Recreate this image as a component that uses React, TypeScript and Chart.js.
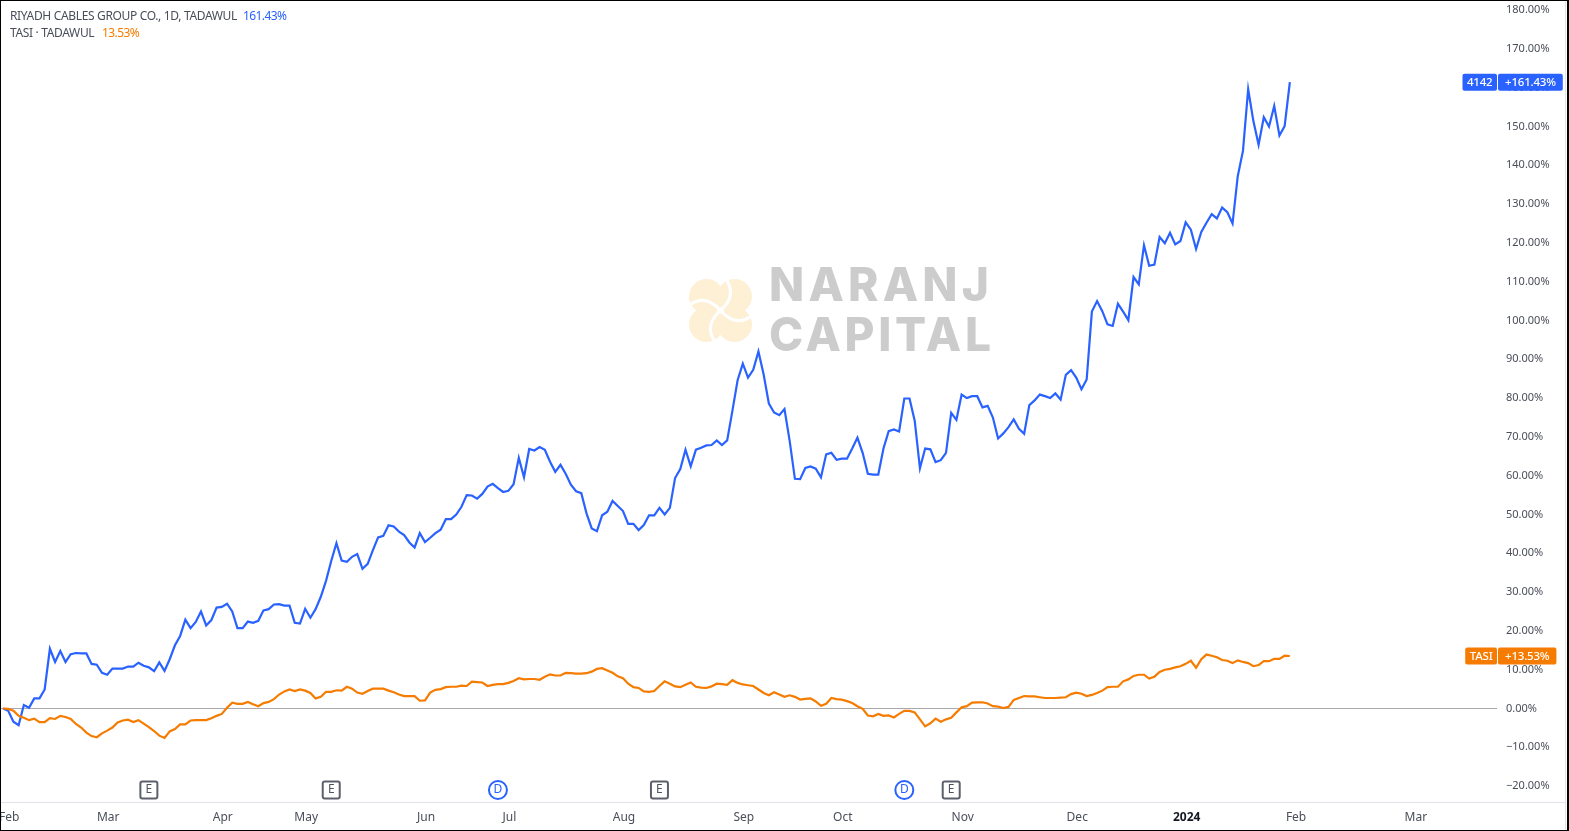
import { useEffect, useRef } from "react"
import { Chart, registerables } from "chart.js"

Chart.register(...registerables)

// percent change since the first session, one value per trading day
const riyadhCables = [
  0.0, -0.6, -3.4, -4.3, 0.9, 0.2, 2.6, 2.6, 4.9, 15.4, 12.0, 14.8, 12.0, 14.0, 14.3, 14.2, 14.2, 11.5, 11.3, 9.2,
  8.7, 10.3, 10.3, 10.3, 10.8, 10.8, 11.8, 11.0, 10.6, 9.6, 11.9, 9.7, 12.7, 16.3, 18.7, 22.9, 20.7, 22.3, 25.0, 21.4,
  22.8, 26.0, 26.2, 27.0, 25.0, 20.7, 20.7, 22.4, 22.1, 22.6, 25.3, 25.6, 26.8, 26.9, 26.5, 26.5, 22.1, 21.9, 25.7, 23.4,
  25.6, 28.8, 32.9, 38.0, 42.6, 38.1, 37.8, 39.1, 39.8, 36.0, 37.3, 40.8, 44.1, 44.5, 47.2, 46.9, 45.6, 44.7, 42.8, 41.5,
  45.2, 42.9, 44.0, 45.2, 46.1, 48.8, 48.8, 50.0, 52.0, 55.0, 54.9, 54.1, 55.3, 57.2, 57.9, 56.8, 55.8, 56.1, 57.8, 64.6,
  59.6, 66.9, 66.5, 67.4, 66.7, 63.6, 61.0, 62.8, 60.5, 57.7, 56.0, 55.5, 50.3, 46.4, 45.7, 49.8, 50.7, 53.5, 52.2, 50.9,
  47.6, 47.6, 46.0, 47.3, 49.8, 49.8, 51.7, 50.0, 51.7, 59.4, 61.7, 66.7, 62.4, 66.7, 67.2, 67.8, 67.9, 69.1, 67.9, 69.1,
  76.7, 84.6, 88.9, 85.3, 87.3, 92.0, 86.1, 78.6, 76.3, 75.6, 77.2, 68.9, 59.2, 59.1, 62.0, 62.4, 61.8, 59.6, 65.5, 65.9,
  64.1, 64.4, 64.4, 67.0, 69.8, 65.9, 60.5, 60.3, 60.3, 67.0, 71.5, 71.9, 71.4, 79.9, 79.9, 74.1, 61.9, 67.0, 66.8, 63.5,
  64.0, 65.9, 76.2, 74.4, 80.9, 80.0, 80.5, 80.5, 77.6, 78.0, 75.0, 69.6, 70.9, 72.5, 74.5, 72.1, 70.8, 78.2, 79.4, 80.9,
  80.5, 80.0, 81.2, 79.6, 86.0, 87.2, 85.3, 82.3, 84.8, 102.3, 105.0, 102.4, 99.0, 98.6, 104.3, 102.3, 100.1, 111.2, 109.3, 119.4,
  114.1, 114.4, 121.5, 119.9, 122.6, 119.6, 120.5, 125.3, 123.4, 118.4, 122.8, 125.2, 127.4, 126.3, 129.1, 127.9, 125.0, 137.2, 143.7, 159.6,
  151.4, 145.3, 152.4, 150.0, 155.3, 147.7, 150.1, 161.43,
]

const tasi = [
  0.0, -0.1, -0.6, -1.9, -2.4, -3.0, -2.6, -3.5, -3.5, -2.5, -2.7, -1.9, -2.2, -2.7, -4.0, -4.9, -6.2, -7.1, -7.4, -6.4,
  -5.7, -4.9, -3.6, -3.1, -2.9, -3.5, -3.0, -3.9, -4.8, -5.8, -7.0, -7.6, -5.9, -5.3, -4.1, -4.1, -3.1, -3.0, -3.0, -3.0,
  -2.5, -1.9, -1.4, 0.2, 1.5, 1.2, 1.2, 1.7, 1.1, 0.6, 1.4, 1.7, 2.4, 3.6, 4.4, 4.9, 4.5, 4.9, 4.6, 4.0,
  2.6, 3.0, 4.3, 4.3, 4.7, 4.6, 5.6, 5.1, 4.1, 3.8, 4.5, 5.1, 5.1, 5.1, 4.6, 4.2, 3.6, 3.2, 3.2, 3.2,
  2.0, 2.1, 4.1, 4.8, 5.0, 5.5, 5.6, 5.6, 5.9, 5.8, 6.9, 6.8, 6.7, 5.8, 6.1, 6.3, 6.3, 6.6, 7.1, 7.8,
  7.5, 7.6, 7.6, 7.4, 8.2, 8.8, 8.5, 8.5, 9.2, 9.1, 9.0, 9.0, 9.1, 9.5, 10.2, 10.4, 9.8, 9.2, 8.3, 7.8,
  6.4, 5.5, 5.3, 4.4, 4.3, 4.5, 5.8, 7.0, 6.4, 5.7, 5.5, 6.1, 6.7, 5.6, 5.4, 5.3, 5.7, 6.4, 6.3, 6.1,
  7.3, 6.6, 6.2, 6.0, 5.8, 4.9, 4.0, 3.4, 4.2, 3.6, 3.0, 3.4, 3.0, 2.3, 2.5, 2.6, 1.8, 0.7, 1.2, 2.7,
  2.4, 2.3, 1.9, 1.4, 0.6, -0.1, -1.8, -2.0, -1.4, -1.9, -1.8, -2.3, -1.4, -0.6, -0.6, -1.0, -2.8, -4.6, -3.8, -2.6,
  -3.4, -2.8, -2.4, -1.0, 0.3, 0.6, 1.5, 1.6, 1.6, 1.3, 0.6, 0.5, 0.1, 0.4, 2.2, 2.7, 3.2, 3.1, 3.1, 2.9,
  2.7, 2.7, 2.7, 2.8, 2.9, 3.7, 4.1, 3.8, 3.2, 3.5, 4.0, 4.6, 5.5, 5.6, 5.6, 7.0, 7.5, 8.4, 8.7, 8.7,
  7.7, 8.2, 9.4, 10.0, 10.2, 10.6, 10.9, 11.5, 12.3, 10.5, 12.7, 13.9, 13.6, 13.2, 12.5, 12.3, 11.7, 12.4, 12.0, 11.7,
  10.9, 11.2, 12.2, 12.2, 12.8, 12.8, 13.6, 13.53,
]

const monthLabels = ["Feb", "Mar", "Apr", "May", "Jun", "Jul", "Aug", "Sep", "Oct", "Nov", "Dec", "2024", "Feb", "Mar"]
const monthSessions = [1, 20, 42, 58, 81, 97, 119, 142, 161, 184, 206, 227, 248, 271]
const percentTicks = [-20, -10, 0, 10, 20, 30, 40, 50, 60, 70, 80, 90, 100, 110, 120, 130, 140, 150, 160, 170, 180]

const earningsSessions = [28, 63, 126, 182]
const dividendSessions = [95, 173]
const eventLevel = -21

const BLUE = "#2962ff"
const ORANGE = "#f57c00"
const TEXT = "#4a4e59"
const AXIS_LINE = "#e0e3eb"
const FONT = '"Noto Sans", sans-serif'

function formatPercent(value: number) {
  const text = Math.abs(value).toFixed(2) + "%"
  return value < 0 ? "\u2212" + text : text
}

function roundedRect(ctx: CanvasRenderingContext2D, x: number, y: number, w: number, h: number, r: number) {
  ctx.beginPath()
  ctx.roundRect(x, y, w, h, r)
}

// pinwheel logo + name behind the lines
function drawWatermark(ctx: CanvasRenderingContext2D) {
  ctx.save()
  ctx.translate(720.5, 310.5)
  ctx.fillStyle = "#fdf0d5"
  for (const [dx, dy] of [[-14, -14], [14, -14], [14, 14], [-14, 14]]) {
    ctx.beginPath()
    ctx.arc(dx, dy, 17.5, 0, Math.PI * 2)
    ctx.fill()
  }
  ctx.strokeStyle = "#ffffff"
  ctx.lineWidth = 3
  for (let i = 0; i < 4; i++) {
    ctx.beginPath()
    ctx.moveTo(0, 0)
    ctx.quadraticCurveTo(18, -16, 4, -33)
    ctx.stroke()
    ctx.rotate(Math.PI / 2)
  }
  ctx.restore()

  ctx.save()
  ctx.fillStyle = "#cccccc"
  ctx.textBaseline = "alphabetic"
  ctx.textAlign = "left"
  ctx.font = '800 46px "Inter", sans-serif'
  ctx.letterSpacing = "4.2px"
  ctx.fillText("NARANJ", 769, 301)
  ctx.letterSpacing = "3.7px"
  ctx.fillText("CAPITAL", 769, 351)
  ctx.restore()
}

function drawLegend(ctx: CanvasRenderingContext2D) {
  ctx.save()
  ctx.textBaseline = "middle"
  ctx.textAlign = "left"
  ctx.font = `12px ${FONT}`
  ctx.letterSpacing = "-0.34px"
  ctx.fillStyle = TEXT
  ctx.fillText("RIYADH CABLES GROUP CO., 1D, TADAWUL", 10, 17)
  ctx.fillText("TASI \u00b7 TADAWUL", 10, 33.5)
  ctx.letterSpacing = "-0.6px"
  ctx.fillStyle = BLUE
  ctx.fillText("161.43%", 243, 17)
  ctx.fillStyle = ORANGE
  ctx.fillText("13.53%", 102, 33.5)
  ctx.restore()
}

function drawEvents(chart: Chart, ctx: CanvasRenderingContext2D) {
  const { x, y } = chart.scales
  const cy = y.getPixelForValue(eventLevel)
  ctx.save()
  ctx.textAlign = "center"
  ctx.textBaseline = "middle"
  ctx.font = `12px ${FONT}`
  ctx.lineWidth = 2
  for (const session of earningsSessions) {
    const cx = x.getPixelForValue(session)
    roundedRect(ctx, cx - 8.5, cy - 8.5, 17, 17, 2)
    ctx.fillStyle = "#ffffff"
    ctx.fill()
    ctx.strokeStyle = "#5d606b"
    ctx.stroke()
    ctx.fillStyle = "#50535e"
    ctx.fillText("E", cx, cy)
  }
  for (const session of dividendSessions) {
    const cx = x.getPixelForValue(session)
    ctx.beginPath()
    ctx.arc(cx, cy, 9, 0, Math.PI * 2)
    ctx.fillStyle = "#ffffff"
    ctx.fill()
    ctx.strokeStyle = BLUE
    ctx.stroke()
    ctx.fillStyle = BLUE
    ctx.fillText("D", cx, cy)
  }
  ctx.restore()
}

function drawTag(ctx: CanvasRenderingContext2D, cy: number, name: string, value: string, color: string) {
  ctx.save()
  ctx.font = `500 11.5px ${FONT}`
  ctx.letterSpacing = "-0.2px"
  ctx.textBaseline = "middle"
  ctx.textAlign = "center"
  const nameWidth = ctx.measureText(name).width + 9
  const valueWidth = ctx.measureText(value).width + 14
  ctx.fillStyle = color
  roundedRect(ctx, 1497 - nameWidth, cy - 8.5, nameWidth, 17, 2)
  ctx.fill()
  roundedRect(ctx, 1498, cy - 8.5, valueWidth, 17, 2)
  ctx.fill()
  ctx.fillStyle = "#ffffff"
  ctx.fillText(name, 1497 - nameWidth / 2, cy + 0.5)
  ctx.fillText(value, 1498 + valueWidth / 2, cy + 0.5)
  ctx.restore()
}

const chartDecor = {
  id: "chartDecor",
  beforeDatasetsDraw(chart: Chart) {
    drawWatermark(chart.ctx)
  },
  afterDraw(chart: Chart) {
    const ctx = chart.ctx
    const { y } = chart.scales
    drawLegend(ctx)
    drawEvents(chart, ctx)

    const lastBlue = riyadhCables[riyadhCables.length - 1]
    const lastOrange = tasi[tasi.length - 1]
    drawTag(ctx, y.getPixelForValue(lastBlue), "4142", "+" + lastBlue.toFixed(2) + "%", BLUE)
    drawTag(ctx, y.getPixelForValue(lastOrange), "TASI", "+" + lastOrange.toFixed(2) + "%", ORANGE)

    // pane separators and outer frame
    ctx.save()
    ctx.fillStyle = AXIS_LINE
    ctx.fillRect(1, 802, 1564, 1)
    ctx.fillRect(1565, 1, 1, 829)
    ctx.fillStyle = "#000000"
    ctx.fillRect(0, 0, 1569, 1)
    ctx.fillRect(0, 0, 1, 831)
    ctx.fillRect(0, 830, 1569, 1)
    ctx.fillRect(1567, 0, 2, 831)
    ctx.restore()
  },
}

export default function App() {
  const chartRef = useRef<HTMLCanvasElement>(null)

  useEffect(() => {
    if (!chartRef.current) return

    const chart = new Chart(chartRef.current, {
      type: "line",
      data: {
        datasets: [
          {
            label: "TASI",
            data: tasi.map((y, x) => ({ x, y })),
            borderColor: ORANGE,
            borderWidth: 2.2,
            pointRadius: 0,
            tension: 0,
          },
          {
            label: "RIYADH CABLES GROUP CO.",
            data: riyadhCables.map((y, x) => ({ x, y })),
            borderColor: BLUE,
            borderWidth: 2.2,
            pointRadius: 0,
            tension: 0,
          },
        ],
      },
      options: {
        animation: false,
        responsive: false,
        devicePixelRatio: 1,
        layout: { padding: { left: 1, top: 1, right: 4, bottom: 1 } },
        plugins: {
          legend: { display: false },
          tooltip: { enabled: false },
        },
        scales: {
          x: {
            type: "linear",
            min: -0.384,
            max: 286.76,
            grid: { display: false },
            border: { display: false },
            afterBuildTicks: (scale) => {
              scale.ticks = monthSessions.map((value) => ({ value }))
            },
            afterFit: (scale) => {
              scale.height = 28
              scale.paddingLeft = 0
              scale.paddingRight = 0
            },
            ticks: {
              autoSkip: false,
              maxRotation: 0,
              minRotation: 0,
              padding: 0,
              labelOffset: 1,
              color: (ctx) => (ctx.tick && ctx.tick.label === "2024" ? "#131722" : TEXT),
              font: (ctx) => ({
                family: FONT,
                size: 12,
                weight: ctx.tick && ctx.tick.label === "2024" ? "bold" : "normal",
              }),
              callback: (value) => monthLabels[monthSessions.indexOf(Number(value))],
            },
          },
          y: {
            position: "right",
            min: -24.1,
            max: 182.35,
            border: { display: false },
            grid: {
              drawTicks: false,
              color: (ctx) => (ctx.tick && ctx.tick.value === 0 ? "#a9a9ad" : "transparent"),
            },
            afterBuildTicks: (scale) => {
              scale.ticks = percentTicks.map((value) => ({ value }))
            },
            afterFit: (scale) => {
              scale.width = 68
              scale.paddingTop = 0
              scale.paddingBottom = 0
            },
            ticks: {
              autoSkip: false,
              padding: 9,
              color: TEXT,
              font: { family: FONT, size: 11 },
              callback: (value) => formatPercent(Number(value)),
            },
          },
        },
      },
      plugins: [chartDecor],
    })

    return () => chart.destroy()
  }, [])

  return (
    <div style={{ position: "fixed", left: 0, top: 0, width: 1569, height: 831, background: "#ffffff" }}>
      <canvas ref={chartRef} width={1569} height={831} style={{ display: "block" }} />
    </div>
  )
}
